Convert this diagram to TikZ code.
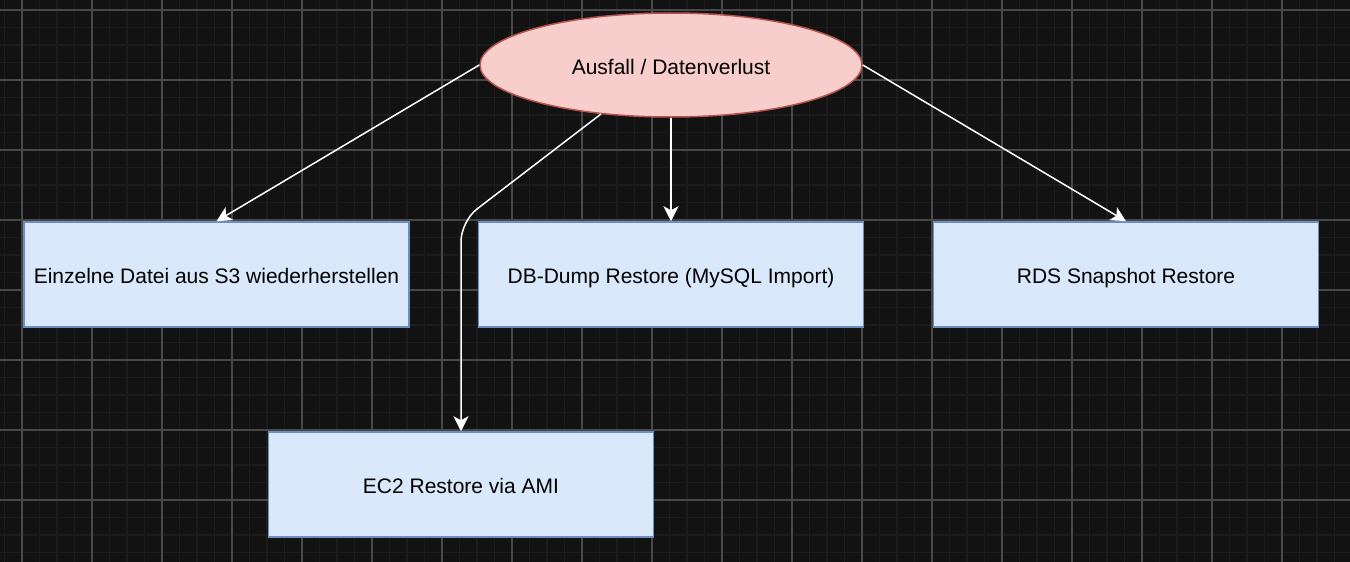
\documentclass[tikz,border=0pt]{standalone}
\usepackage{fontspec}
\setmainfont{Liberation Sans}
\usetikzlibrary{shapes.geometric,arrows.meta}
\definecolor{bgdark}{HTML}{121212}
\definecolor{gridminor}{HTML}{1C1C1C}
\definecolor{gridmajor}{HTML}{484848}
\definecolor{boxfill}{HTML}{DAE8FC}
\definecolor{boxline}{HTML}{6C8EBF}
\definecolor{lossfill}{HTML}{F8CECC}
\definecolor{lossline}{HTML}{B85450}

\begin{document}
\begin{tikzpicture}[x=1pt,y=-1pt]
      \tikzstyle{textfont} = [font=\fontsize{21}{24}\selectfont, text height=18pt, text depth=0pt]
      \tikzstyle{box} = [rectangle, draw=boxline, fill=boxfill, line width=1.5pt, minimum width=385pt, minimum height=105pt, inner sep=0pt, textfont]
      \tikzstyle{event} = [ellipse, draw=lossline, fill=lossfill, line width=1.5pt, minimum width=382pt, minimum height=104pt, inner sep=0pt, textfont]
      \tikzstyle{conn} = [draw=white, line width=1.5pt, -{Stealth[length=15pt,width=15pt,inset=4pt]}]
      \tikzstyle{minor} = [gridminor, line width=1.5pt]
      \tikzstyle{major} = [gridmajor, line width=1.2pt]
      \useasboundingbox (0,0) rectangle (1350,562);
      \fill [bgdark] (0,0) rectangle (1350,562);
      % grid
      \foreach \i in {0,...,76} \draw [minor] ({4.5+17.5*\i},0) -- ++(0,562);
      \foreach \i in {0,...,31} \draw [minor] (0,{10+17.5*\i}) -- ++(1350,0);
      \foreach \i in {0,...,18} \draw [major] ({22+70*\i},0) -- ++(0,562);
      \foreach \i in {0,...,7} \draw [major] (0,{10+70*\i}) -- ++(1350,0);
      % nodes
      \node (loss) [event] at (671,65) {Ausfall / Datenverlust};
      \node (s3) [box] at (216.5,274.5) {Einzelne Datei aus S3 wiederherstellen};
      \node (dump) [box] at (671,274.5) {DB-Dump Restore (MySQL Import)};
      \node (rds) [box] at (1126,274.5) {RDS Snapshot Restore};
      \node (ec2) [box] at (461,484.5) {EC2 Restore via AMI};
      % connectors
      \coordinate (bend) at (ec2.north |- dump.north);
      \draw [conn] (loss.west) -- (s3.north);
      \draw [conn] (loss.south) -- (dump.north);
      \draw [conn] (loss.east) -- (rds.north);
      \draw [conn, rounded corners=20pt] (loss.215) -- (bend) -- (ec2.north);
    \end{tikzpicture}
\end{document}
